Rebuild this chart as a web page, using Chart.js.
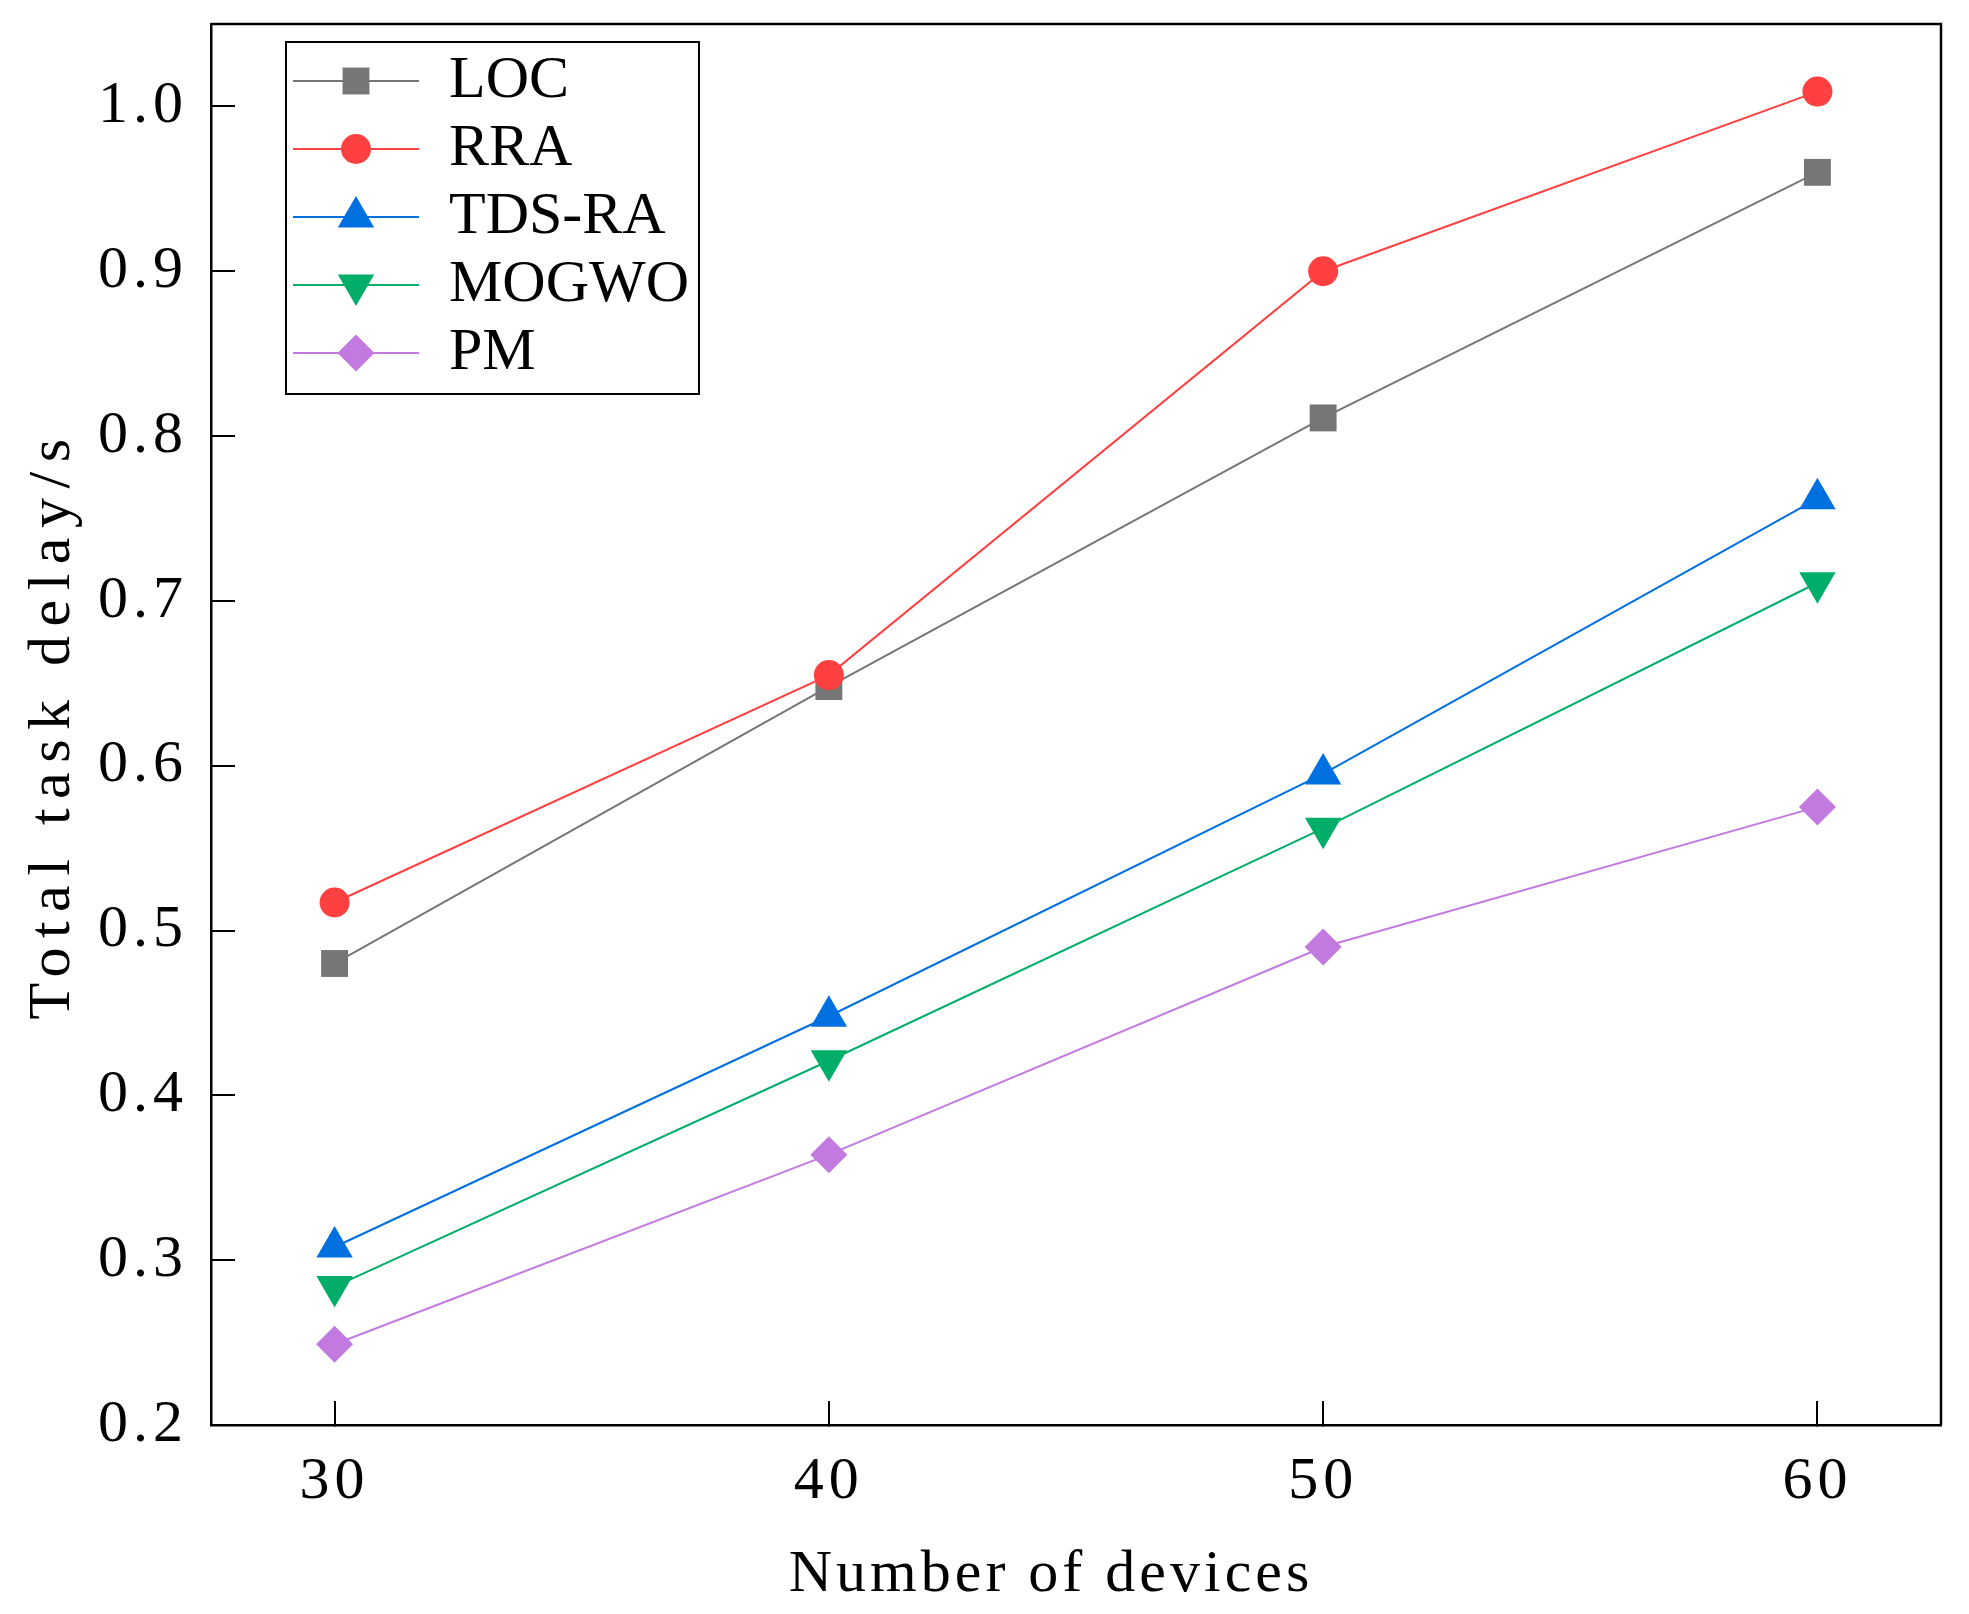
<!DOCTYPE html>
<html>
<head>
<meta charset="utf-8">
<script src="https://cdn.jsdelivr.net/npm/chart.js@4.4.1/dist/chart.umd.min.js"></script>
<style>
  html, body { margin: 0; padding: 0; background: #fff; }
  #wrap { width: 1969px; height: 1614px; }
</style>
</head>
<body>
<div id="wrap"><canvas id="grafico"></canvas></div>
<script>
// valores
const devices = [30, 40, 50, 60];
const loc   = [0.480, 0.648, 0.811, 0.960];
const rra   = [0.517, 0.655, 0.900, 1.009];
const tdsRa = [0.308, 0.448, 0.595, 0.762];
const mogwo = [0.284, 0.421, 0.562, 0.711];
const pm    = [0.249, 0.364, 0.490, 0.575];

const xTicks = [30, 40, 50, 60];
const yTicks = [0.2, 0.3, 0.4, 0.5, 0.6, 0.7, 0.8, 0.9, 1.0];

const series = [
  { label: 'LOC',    data: loc,   color: '#767676', style: 'rect',     radius: 19,   rotation: 0 },
  { label: 'RRA',    data: rra,   color: '#ff4040', style: 'circle',   radius: 15,   rotation: 0 },
  { label: 'TDS-RA', data: tdsRa, color: '#006fe0', style: 'triangle', radius: 21,   rotation: 0 },
  { label: 'MOGWO',  data: mogwo, color: '#00ae69', style: 'triangle', radius: 21,   rotation: 180 },
  { label: 'PM',     data: pm,    color: '#c27ae0', style: 'rectRot',  radius: 18.5, rotation: 0 }
];

const FONTE = 'Liberation Serif';
Chart.defaults.font.family = FONTE;
Chart.defaults.font.size = 60;
Chart.defaults.color = '#000';

// ícone da legenda: linha + marcador
function iconeLegenda(s) {
  const c = document.createElement('canvas');
  c.width = 126;
  c.height = 48;
  const g = c.getContext('2d');
  g.strokeStyle = s.color;
  g.lineWidth = 2;
  g.beginPath();
  g.moveTo(0, 24);
  g.lineTo(126, 24);
  g.stroke();
  g.fillStyle = s.color;
  Chart.helpers.drawPoint(g, { pointStyle: s.style, radius: s.radius, rotation: s.rotation, borderWidth: 0 }, 63, 24);
  return c;
}
const icones = series.map(iconeLegenda);

// troca o espaçamento das letras (e desloca, se preciso) só durante uma chamada de desenho
function comEspaco(obj, nome, espaco, dx) {
  const orig = obj[nome];
  obj[nome] = function () {
    const c = this.ctx;
    const antes = c.letterSpacing;
    c.save();
    c.translate(dx || 0, 0);
    c.letterSpacing = espaco;
    const r = orig.apply(this, arguments);
    c.restore();
    c.letterSpacing = antes;
    return r;
  };
}

const moldura = {
  id: 'moldura',
  afterLayout(chart) {
    const lg = chart.legend;
    const a = chart.chartArea;
    lg.left = a.left + 74;
    lg.top = a.top + 19;
    if (!lg._espaco) {
      comEspaco(lg, 'draw', '0px');
      lg._espaco = true;
    }
    const sx = chart.scales.x, sy = chart.scales.y;
    if (!sx._espaco) {
      comEspaco(sx, 'drawTitle', '4px', -25);
      comEspaco(sy, 'drawTitle', '9.5px');
      sx._espaco = sy._espaco = true;
    }
  },
  beforeDraw(chart) {
    chart.ctx.letterSpacing = '5px';
  },
  afterDraw(chart) {
    const ctx = chart.ctx;
    const a = chart.chartArea;
    const lg = chart.legend;
    ctx.save();
    ctx.letterSpacing = '0px';
    ctx.strokeStyle = '#000';
    ctx.lineWidth = 2.5;
    ctx.beginPath();
    ctx.moveTo(a.left, a.top);
    ctx.lineTo(a.right, a.top);
    ctx.lineTo(a.right, a.bottom);
    ctx.stroke();

    // caixa da legenda
    ctx.font = '60px "' + FONTE + '"';
    let maior = 0;
    series.forEach(s => { maior = Math.max(maior, ctx.measureText(s.label).width); });
    const x0 = lg.left + 1;
    const y0 = lg.top - 1;
    const largura = 8 + 126 + 30 + maior + 10 - 1;
    ctx.lineWidth = 2;
    ctx.strokeRect(x0, y0, largura, 352);
    ctx.restore();
  }
};

const ctx = document.getElementById('grafico').getContext('2d');
const grafico = new Chart(ctx, {
  type: 'line',
  data: {
    datasets: series.map((s, i) => ({
      label: s.label,
      data: devices.map((d, k) => ({ x: d, y: s.data[k] })),
      borderColor: s.color,
      backgroundColor: s.color,
      borderWidth: 2,
      pointStyle: s.style,
      pointRadius: s.radius,
      pointHoverRadius: s.radius,
      pointRotation: s.rotation,
      pointBackgroundColor: s.color,
      pointBorderWidth: 0,
      order: series.length - i,
      tension: 0,
      fill: false
    }))
  },
  options: {
    responsive: true,
    maintainAspectRatio: false,
    devicePixelRatio: 1,
    animation: false,
    events: [],
    layout: { padding: { top: 24, right: 28, left: 0, bottom: 0 } },
    plugins: {
      legend: {
        position: 'chartArea',
        align: 'start',
        labels: {
          font: { size: 60 },
          color: '#000',
          padding: 8,
          usePointStyle: true,
          pointStyleWidth: 126,
          generateLabels: () => series.map((s, i) => ({
            text: s.label,
            pointStyle: icones[i],
            rotation: 0,
            fillStyle: s.color,
            strokeStyle: s.color,
            lineWidth: 0,
            hidden: false,
            datasetIndex: i,
            fontColor: '#000'
          }))
        }
      },
      tooltip: { enabled: false }
    },
    scales: {
      x: {
        type: 'linear',
        min: 27.5,
        max: 62.5,
        afterBuildTicks: sc => { sc.ticks = xTicks.map(v => ({ value: v })); },
        afterFit: sc => { sc.height = 189; sc.paddingLeft = 0; sc.paddingRight = 0; },
        ticks: { padding: 45, autoSkip: false, maxRotation: 0, color: '#000', callback: v => String(v) },
        grid: { drawOnChartArea: false, drawTicks: true, tickLength: -24, color: '#000', lineWidth: 2 },
        border: { color: '#000', width: 2.5 },
        title: { display: true, text: 'Number of devices', color: '#000', padding: { top: 0, bottom: 3 } }
      },
      y: {
        type: 'linear',
        min: 0.2,
        max: 1.05,
        afterBuildTicks: sc => { sc.ticks = yTicks.map(v => ({ value: v })); },
        afterFit: sc => { sc.width = 211; sc.paddingTop = 0; sc.paddingBottom = 0; },
        ticks: { padding: 47, autoSkip: false, color: '#000', callback: v => v.toFixed(1) },
        grid: { drawOnChartArea: false, drawTicks: true, tickLength: -24, color: '#000', lineWidth: 2 },
        border: { color: '#000', width: 2.5 },
        title: { display: true, text: 'Total task delay/s', color: '#000', padding: { top: 17, bottom: 0 } }
      }
    }
  },
  plugins: [moldura]
});
</script>
</body>
</html>
